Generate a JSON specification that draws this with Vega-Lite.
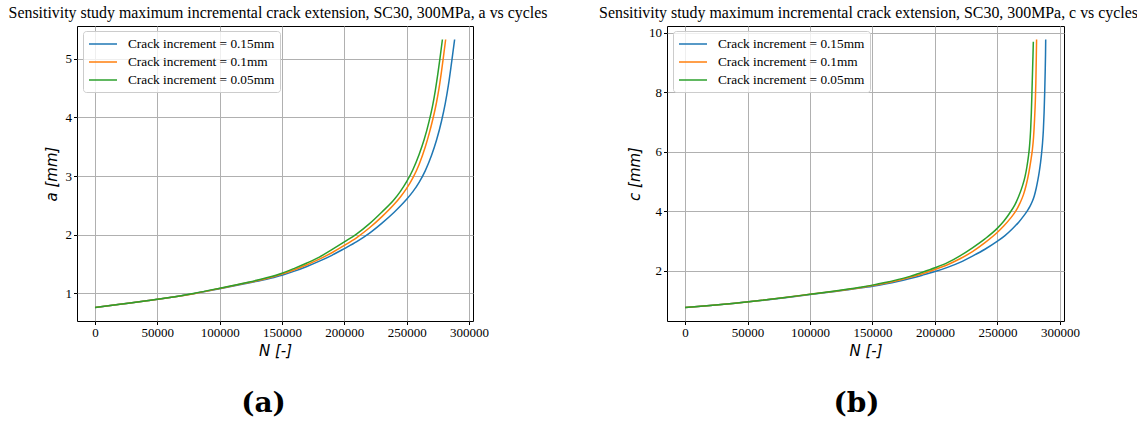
{
  "$schema": "https://vega.github.io/schema/vega-lite/v6.json",
  "background": "white",
  "padding": {"left": 8, "top": 4, "right": 5, "bottom": 2},
  "datasets": {
    "a": [
      {"s": "Crack increment = 0.15mm", "N": 0, "v": 0.76},
      {"s": "Crack increment = 0.15mm", "N": 20000, "v": 0.815},
      {"s": "Crack increment = 0.15mm", "N": 40000, "v": 0.87},
      {"s": "Crack increment = 0.15mm", "N": 60000, "v": 0.93},
      {"s": "Crack increment = 0.15mm", "N": 80000, "v": 1.0},
      {"s": "Crack increment = 0.15mm", "N": 100000, "v": 1.08},
      {"s": "Crack increment = 0.15mm", "N": 120000, "v": 1.165},
      {"s": "Crack increment = 0.15mm", "N": 140000, "v": 1.255},
      {"s": "Crack increment = 0.15mm", "N": 150000, "v": 1.31},
      {"s": "Crack increment = 0.15mm", "N": 160000, "v": 1.38},
      {"s": "Crack increment = 0.15mm", "N": 170000, "v": 1.46},
      {"s": "Crack increment = 0.15mm", "N": 180000, "v": 1.55},
      {"s": "Crack increment = 0.15mm", "N": 190000, "v": 1.65},
      {"s": "Crack increment = 0.15mm", "N": 200000, "v": 1.765},
      {"s": "Crack increment = 0.15mm", "N": 210000, "v": 1.885},
      {"s": "Crack increment = 0.15mm", "N": 220000, "v": 2.025},
      {"s": "Crack increment = 0.15mm", "N": 230000, "v": 2.195},
      {"s": "Crack increment = 0.15mm", "N": 240000, "v": 2.385},
      {"s": "Crack increment = 0.15mm", "N": 245000, "v": 2.49},
      {"s": "Crack increment = 0.15mm", "N": 250000, "v": 2.605},
      {"s": "Crack increment = 0.15mm", "N": 255000, "v": 2.735},
      {"s": "Crack increment = 0.15mm", "N": 260000, "v": 2.895},
      {"s": "Crack increment = 0.15mm", "N": 265000, "v": 3.095},
      {"s": "Crack increment = 0.15mm", "N": 270000, "v": 3.355},
      {"s": "Crack increment = 0.15mm", "N": 274000, "v": 3.615},
      {"s": "Crack increment = 0.15mm", "N": 278000, "v": 3.94},
      {"s": "Crack increment = 0.15mm", "N": 281000, "v": 4.24},
      {"s": "Crack increment = 0.15mm", "N": 283500, "v": 4.55},
      {"s": "Crack increment = 0.15mm", "N": 285500, "v": 4.85},
      {"s": "Crack increment = 0.15mm", "N": 287000, "v": 5.09},
      {"s": "Crack increment = 0.15mm", "N": 288500, "v": 5.33},
      {"s": "Crack increment = 0.1mm", "N": 0, "v": 0.76},
      {"s": "Crack increment = 0.1mm", "N": 20000, "v": 0.815},
      {"s": "Crack increment = 0.1mm", "N": 40000, "v": 0.87},
      {"s": "Crack increment = 0.1mm", "N": 60000, "v": 0.93},
      {"s": "Crack increment = 0.1mm", "N": 80000, "v": 1.0},
      {"s": "Crack increment = 0.1mm", "N": 100000, "v": 1.085},
      {"s": "Crack increment = 0.1mm", "N": 120000, "v": 1.172},
      {"s": "Crack increment = 0.1mm", "N": 140000, "v": 1.266},
      {"s": "Crack increment = 0.1mm", "N": 150000, "v": 1.331},
      {"s": "Crack increment = 0.1mm", "N": 160000, "v": 1.404},
      {"s": "Crack increment = 0.1mm", "N": 170000, "v": 1.489},
      {"s": "Crack increment = 0.1mm", "N": 180000, "v": 1.585},
      {"s": "Crack increment = 0.1mm", "N": 190000, "v": 1.694},
      {"s": "Crack increment = 0.1mm", "N": 200000, "v": 1.818},
      {"s": "Crack increment = 0.1mm", "N": 210000, "v": 1.953},
      {"s": "Crack increment = 0.1mm", "N": 220000, "v": 2.115},
      {"s": "Crack increment = 0.1mm", "N": 230000, "v": 2.305},
      {"s": "Crack increment = 0.1mm", "N": 240000, "v": 2.52},
      {"s": "Crack increment = 0.1mm", "N": 245000, "v": 2.645},
      {"s": "Crack increment = 0.1mm", "N": 250000, "v": 2.79},
      {"s": "Crack increment = 0.1mm", "N": 255000, "v": 2.97},
      {"s": "Crack increment = 0.1mm", "N": 260000, "v": 3.2},
      {"s": "Crack increment = 0.1mm", "N": 265000, "v": 3.5},
      {"s": "Crack increment = 0.1mm", "N": 268000, "v": 3.72},
      {"s": "Crack increment = 0.1mm", "N": 271000, "v": 3.97},
      {"s": "Crack increment = 0.1mm", "N": 274000, "v": 4.26},
      {"s": "Crack increment = 0.1mm", "N": 276000, "v": 4.5},
      {"s": "Crack increment = 0.1mm", "N": 278000, "v": 4.79},
      {"s": "Crack increment = 0.1mm", "N": 279500, "v": 5.03},
      {"s": "Crack increment = 0.1mm", "N": 281300, "v": 5.33},
      {"s": "Crack increment = 0.05mm", "N": 0, "v": 0.76},
      {"s": "Crack increment = 0.05mm", "N": 20000, "v": 0.815},
      {"s": "Crack increment = 0.05mm", "N": 40000, "v": 0.87},
      {"s": "Crack increment = 0.05mm", "N": 60000, "v": 0.93},
      {"s": "Crack increment = 0.05mm", "N": 80000, "v": 1.005},
      {"s": "Crack increment = 0.05mm", "N": 100000, "v": 1.09},
      {"s": "Crack increment = 0.05mm", "N": 120000, "v": 1.178},
      {"s": "Crack increment = 0.05mm", "N": 140000, "v": 1.28},
      {"s": "Crack increment = 0.05mm", "N": 150000, "v": 1.345},
      {"s": "Crack increment = 0.05mm", "N": 160000, "v": 1.428},
      {"s": "Crack increment = 0.05mm", "N": 170000, "v": 1.519},
      {"s": "Crack increment = 0.05mm", "N": 180000, "v": 1.62},
      {"s": "Crack increment = 0.05mm", "N": 190000, "v": 1.746},
      {"s": "Crack increment = 0.05mm", "N": 200000, "v": 1.878},
      {"s": "Crack increment = 0.05mm", "N": 210000, "v": 2.016},
      {"s": "Crack increment = 0.05mm", "N": 220000, "v": 2.186},
      {"s": "Crack increment = 0.05mm", "N": 230000, "v": 2.385},
      {"s": "Crack increment = 0.05mm", "N": 240000, "v": 2.6},
      {"s": "Crack increment = 0.05mm", "N": 245000, "v": 2.74},
      {"s": "Crack increment = 0.05mm", "N": 250000, "v": 2.905},
      {"s": "Crack increment = 0.05mm", "N": 255000, "v": 3.11},
      {"s": "Crack increment = 0.05mm", "N": 260000, "v": 3.37},
      {"s": "Crack increment = 0.05mm", "N": 264000, "v": 3.62},
      {"s": "Crack increment = 0.05mm", "N": 268000, "v": 3.935},
      {"s": "Crack increment = 0.05mm", "N": 271000, "v": 4.22},
      {"s": "Crack increment = 0.05mm", "N": 273000, "v": 4.46},
      {"s": "Crack increment = 0.05mm", "N": 275000, "v": 4.74},
      {"s": "Crack increment = 0.05mm", "N": 276500, "v": 4.97},
      {"s": "Crack increment = 0.05mm", "N": 277500, "v": 5.13},
      {"s": "Crack increment = 0.05mm", "N": 278700, "v": 5.33}
    ],
    "c": [
      {"s": "Crack increment = 0.15mm", "N": 0, "v": 0.76},
      {"s": "Crack increment = 0.15mm", "N": 20000, "v": 0.83},
      {"s": "Crack increment = 0.15mm", "N": 40000, "v": 0.91},
      {"s": "Crack increment = 0.15mm", "N": 60000, "v": 0.995},
      {"s": "Crack increment = 0.15mm", "N": 80000, "v": 1.095},
      {"s": "Crack increment = 0.15mm", "N": 100000, "v": 1.2},
      {"s": "Crack increment = 0.15mm", "N": 120000, "v": 1.3},
      {"s": "Crack increment = 0.15mm", "N": 140000, "v": 1.415},
      {"s": "Crack increment = 0.15mm", "N": 150000, "v": 1.48},
      {"s": "Crack increment = 0.15mm", "N": 160000, "v": 1.555},
      {"s": "Crack increment = 0.15mm", "N": 170000, "v": 1.64},
      {"s": "Crack increment = 0.15mm", "N": 180000, "v": 1.74},
      {"s": "Crack increment = 0.15mm", "N": 190000, "v": 1.85},
      {"s": "Crack increment = 0.15mm", "N": 200000, "v": 1.97},
      {"s": "Crack increment = 0.15mm", "N": 210000, "v": 2.11},
      {"s": "Crack increment = 0.15mm", "N": 220000, "v": 2.28},
      {"s": "Crack increment = 0.15mm", "N": 230000, "v": 2.49},
      {"s": "Crack increment = 0.15mm", "N": 240000, "v": 2.72},
      {"s": "Crack increment = 0.15mm", "N": 250000, "v": 2.99},
      {"s": "Crack increment = 0.15mm", "N": 256000, "v": 3.18},
      {"s": "Crack increment = 0.15mm", "N": 262000, "v": 3.41},
      {"s": "Crack increment = 0.15mm", "N": 267000, "v": 3.63},
      {"s": "Crack increment = 0.15mm", "N": 271000, "v": 3.84},
      {"s": "Crack increment = 0.15mm", "N": 274000, "v": 4.02},
      {"s": "Crack increment = 0.15mm", "N": 276000, "v": 4.16},
      {"s": "Crack increment = 0.15mm", "N": 278000, "v": 4.34},
      {"s": "Crack increment = 0.15mm", "N": 279500, "v": 4.52},
      {"s": "Crack increment = 0.15mm", "N": 281000, "v": 4.77},
      {"s": "Crack increment = 0.15mm", "N": 282300, "v": 5.04},
      {"s": "Crack increment = 0.15mm", "N": 283500, "v": 5.34},
      {"s": "Crack increment = 0.15mm", "N": 284500, "v": 5.64},
      {"s": "Crack increment = 0.15mm", "N": 285300, "v": 5.94},
      {"s": "Crack increment = 0.15mm", "N": 286000, "v": 6.26},
      {"s": "Crack increment = 0.15mm", "N": 286700, "v": 6.7},
      {"s": "Crack increment = 0.15mm", "N": 287300, "v": 7.3},
      {"s": "Crack increment = 0.15mm", "N": 287800, "v": 8.0},
      {"s": "Crack increment = 0.15mm", "N": 288200, "v": 8.7},
      {"s": "Crack increment = 0.15mm", "N": 288450, "v": 9.25},
      {"s": "Crack increment = 0.15mm", "N": 288600, "v": 9.77},
      {"s": "Crack increment = 0.1mm", "N": 0, "v": 0.76},
      {"s": "Crack increment = 0.1mm", "N": 20000, "v": 0.83},
      {"s": "Crack increment = 0.1mm", "N": 40000, "v": 0.91},
      {"s": "Crack increment = 0.1mm", "N": 60000, "v": 1.0},
      {"s": "Crack increment = 0.1mm", "N": 80000, "v": 1.1},
      {"s": "Crack increment = 0.1mm", "N": 100000, "v": 1.205},
      {"s": "Crack increment = 0.1mm", "N": 120000, "v": 1.31},
      {"s": "Crack increment = 0.1mm", "N": 140000, "v": 1.43},
      {"s": "Crack increment = 0.1mm", "N": 150000, "v": 1.5},
      {"s": "Crack increment = 0.1mm", "N": 160000, "v": 1.58},
      {"s": "Crack increment = 0.1mm", "N": 170000, "v": 1.67},
      {"s": "Crack increment = 0.1mm", "N": 180000, "v": 1.78},
      {"s": "Crack increment = 0.1mm", "N": 190000, "v": 1.9},
      {"s": "Crack increment = 0.1mm", "N": 200000, "v": 2.04},
      {"s": "Crack increment = 0.1mm", "N": 210000, "v": 2.2},
      {"s": "Crack increment = 0.1mm", "N": 220000, "v": 2.4},
      {"s": "Crack increment = 0.1mm", "N": 230000, "v": 2.64},
      {"s": "Crack increment = 0.1mm", "N": 240000, "v": 2.94},
      {"s": "Crack increment = 0.1mm", "N": 250000, "v": 3.29},
      {"s": "Crack increment = 0.1mm", "N": 255000, "v": 3.5},
      {"s": "Crack increment = 0.1mm", "N": 260000, "v": 3.74},
      {"s": "Crack increment = 0.1mm", "N": 264600, "v": 4.0},
      {"s": "Crack increment = 0.1mm", "N": 268000, "v": 4.27},
      {"s": "Crack increment = 0.1mm", "N": 271000, "v": 4.58},
      {"s": "Crack increment = 0.1mm", "N": 273000, "v": 4.88},
      {"s": "Crack increment = 0.1mm", "N": 275000, "v": 5.27},
      {"s": "Crack increment = 0.1mm", "N": 276700, "v": 5.7},
      {"s": "Crack increment = 0.1mm", "N": 277900, "v": 6.05},
      {"s": "Crack increment = 0.1mm", "N": 278900, "v": 6.5},
      {"s": "Crack increment = 0.1mm", "N": 279700, "v": 7.1},
      {"s": "Crack increment = 0.1mm", "N": 280300, "v": 7.7},
      {"s": "Crack increment = 0.1mm", "N": 280700, "v": 8.3},
      {"s": "Crack increment = 0.1mm", "N": 281000, "v": 9.0},
      {"s": "Crack increment = 0.1mm", "N": 281300, "v": 9.77},
      {"s": "Crack increment = 0.05mm", "N": 0, "v": 0.76},
      {"s": "Crack increment = 0.05mm", "N": 20000, "v": 0.83},
      {"s": "Crack increment = 0.05mm", "N": 40000, "v": 0.91},
      {"s": "Crack increment = 0.05mm", "N": 60000, "v": 1.0},
      {"s": "Crack increment = 0.05mm", "N": 80000, "v": 1.1},
      {"s": "Crack increment = 0.05mm", "N": 100000, "v": 1.21},
      {"s": "Crack increment = 0.05mm", "N": 120000, "v": 1.32},
      {"s": "Crack increment = 0.05mm", "N": 140000, "v": 1.445},
      {"s": "Crack increment = 0.05mm", "N": 150000, "v": 1.515},
      {"s": "Crack increment = 0.05mm", "N": 160000, "v": 1.6},
      {"s": "Crack increment = 0.05mm", "N": 170000, "v": 1.7},
      {"s": "Crack increment = 0.05mm", "N": 180000, "v": 1.81},
      {"s": "Crack increment = 0.05mm", "N": 190000, "v": 1.95},
      {"s": "Crack increment = 0.05mm", "N": 200000, "v": 2.1},
      {"s": "Crack increment = 0.05mm", "N": 210000, "v": 2.27},
      {"s": "Crack increment = 0.05mm", "N": 220000, "v": 2.5},
      {"s": "Crack increment = 0.05mm", "N": 230000, "v": 2.77},
      {"s": "Crack increment = 0.05mm", "N": 240000, "v": 3.07},
      {"s": "Crack increment = 0.05mm", "N": 250000, "v": 3.43},
      {"s": "Crack increment = 0.05mm", "N": 255000, "v": 3.66},
      {"s": "Crack increment = 0.05mm", "N": 260500, "v": 3.98},
      {"s": "Crack increment = 0.05mm", "N": 264000, "v": 4.22},
      {"s": "Crack increment = 0.05mm", "N": 267000, "v": 4.5},
      {"s": "Crack increment = 0.05mm", "N": 270000, "v": 4.85},
      {"s": "Crack increment = 0.05mm", "N": 272000, "v": 5.15},
      {"s": "Crack increment = 0.05mm", "N": 273600, "v": 5.5},
      {"s": "Crack increment = 0.05mm", "N": 274800, "v": 5.85},
      {"s": "Crack increment = 0.05mm", "N": 275700, "v": 6.2},
      {"s": "Crack increment = 0.05mm", "N": 276500, "v": 6.7},
      {"s": "Crack increment = 0.05mm", "N": 277100, "v": 7.3},
      {"s": "Crack increment = 0.05mm", "N": 277600, "v": 8.0},
      {"s": "Crack increment = 0.05mm", "N": 278000, "v": 8.6},
      {"s": "Crack increment = 0.05mm", "N": 278400, "v": 9.2},
      {"s": "Crack increment = 0.05mm", "N": 278700, "v": 9.69}
    ]
  },
  "config": {
    "font": "Liberation Serif",
    "view": {"stroke": "black", "strokeWidth": 1},
    "axis": {
      "grid": true, "gridColor": "#b0b0b0", "gridWidth": 1, "domain": false,
      "ticks": true, "tickColor": "black", "tickSize": 3.5, "tickWidth": 1,
      "labelFont": "Liberation Serif", "labelFontSize": 13, "labelColor": "black", "labelPadding": 2,
      "titleFont": "DejaVu Sans", "titleFontStyle": "italic", "titleFontWeight": "normal",
      "titleFontSize": 15, "titleColor": "black"
    },
    "legend": {
      "orient": "none", "legendX": 6, "legendY": 5, "fillColor": "rgba(255,255,255,0.8)",
      "strokeColor": "#cccccc", "cornerRadius": 3, "padding": 5,
      "symbolType": "M-1,0H3", "symbolSize": 196, "symbolStrokeWidth": 1.5,
      "labelFont": "Liberation Serif", "labelFontSize": 13.3, "labelColor": "black",
      "labelOffset": 24, "rowPadding": 3, "labelLimit": 300
    },
    "title": {
      "font": "Liberation Serif", "fontSize": 15.9, "fontWeight": "normal", "color": "black",
      "frame": "group", "anchor": "middle", "offset": 5, "dx": 3
    }
  },
  "spacing": 194,
  "bounds": "flush",
  "resolve": {"legend": {"color": "independent"}},
  "hconcat": [
    {
      "width": 396, "height": 295,
      "title": {"text": "Sensitivity study maximum incremental crack extension, SC30, 300MPa, a vs cycles"},
      "data": {"name": "a"},
      "resolve": {"axis": {"x": "independent"}},
      "layer": [
        {
          "mark": {"type": "line", "strokeWidth": 1.5, "interpolate": "monotone"},
          "encoding": {
            "x": {"field": "N", "type": "quantitative",
              "scale": {"domain": [-14440, 303240], "nice": false, "zero": false},
              "axis": {"title": "N [-]", "values": [0, 50000, 100000, 150000, 200000, 250000, 300000], "format": "d", "titlePadding": 4}},
            "y": {"field": "v", "type": "quantitative",
              "scale": {"domain": [0.53, 5.56], "nice": false, "zero": false},
              "axis": {"title": "a [mm]", "values": [1, 2, 3, 4, 5], "titlePadding": 6}},
            "color": {"field": "s", "type": "nominal",
              "scale": {"domain": ["Crack increment = 0.15mm", "Crack increment = 0.1mm", "Crack increment = 0.05mm"], "range": ["#1f77b4", "#ff7f0e", "#2ca02c"]},
              "legend": {"title": null}}
          }
        },
        {
          "mark": {"type": "point", "opacity": 0},
          "encoding": {
            "x": {"field": "N", "type": "quantitative",
              "scale": {"domain": [-14440, 303240], "nice": false, "zero": false},
              "axis": {"orient": "bottom", "title": "(a)", "labels": false, "ticks": false, "grid": false, "domain": false,
                "titleFont": "DejaVu Serif", "titleFontWeight": "bold", "titleFontStyle": "normal", "titleFontSize": 28,
                "titleX": 186, "titleY": 90, "titleAlign": "center", "titleBaseline": "alphabetic"}}
          }
        }
      ]
    },
    {
      "width": 397, "height": 295,
      "title": {"text": "Sensitivity study maximum incremental crack extension, SC30, 300MPa, c vs cycles"},
      "data": {"name": "c"},
      "resolve": {"axis": {"x": "independent"}},
      "layer": [
        {
          "mark": {"type": "line", "strokeWidth": 1.5, "interpolate": "monotone"},
          "encoding": {
            "x": {"field": "N", "type": "quantitative",
              "scale": {"domain": [-14440, 303240], "nice": false, "zero": false},
              "axis": {"title": "N [-]", "values": [0, 50000, 100000, 150000, 200000, 250000, 300000], "format": "d", "titlePadding": 4}},
            "y": {"field": "v", "type": "quantitative",
              "scale": {"domain": [0.31, 10.22], "nice": false, "zero": false},
              "axis": {"title": "c [mm]", "values": [2, 4, 6, 8, 10], "titlePadding": 6}},
            "color": {"field": "s", "type": "nominal",
              "scale": {"domain": ["Crack increment = 0.15mm", "Crack increment = 0.1mm", "Crack increment = 0.05mm"], "range": ["#1f77b4", "#ff7f0e", "#2ca02c"]},
              "legend": {"title": null}}
          }
        },
        {
          "mark": {"type": "point", "opacity": 0},
          "encoding": {
            "x": {"field": "N", "type": "quantitative",
              "scale": {"domain": [-14440, 303240], "nice": false, "zero": false},
              "axis": {"orient": "bottom", "title": "(b)", "labels": false, "ticks": false, "grid": false, "domain": false,
                "titleFont": "DejaVu Serif", "titleFontWeight": "bold", "titleFontStyle": "normal", "titleFontSize": 28,
                "titleX": 189, "titleY": 90, "titleAlign": "center", "titleBaseline": "alphabetic"}}
          }
        }
      ]
    }
  ]
}
